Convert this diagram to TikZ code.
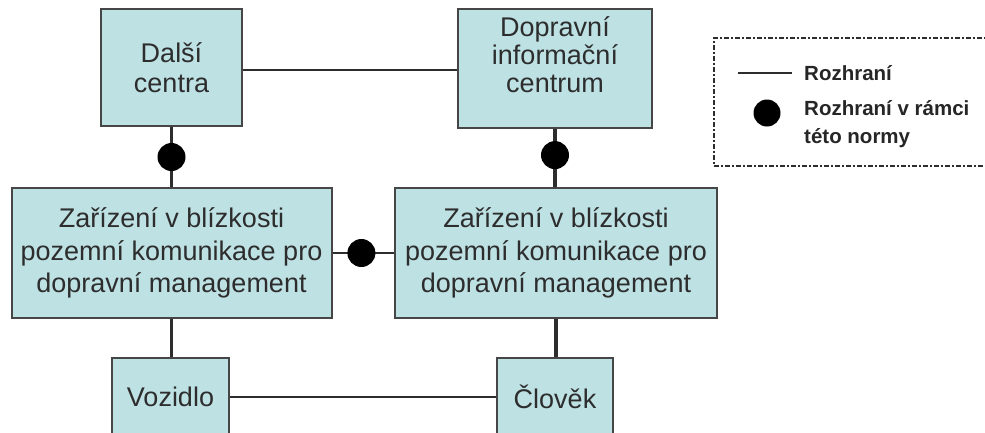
\documentclass[tikz,border=0pt]{standalone}
\usepackage{fontspec}
\setmainfont{Liberation Sans}
\usepackage{tikz}
\usetikzlibrary{
  positioning,
  calc
}
\definecolor{boxfill}{RGB}{190,225,228}
\definecolor{boxline}{RGB}{70,70,70}
\definecolor{txtgray}{RGB}{45,45,45}
\tikzset{
  unitbox/.style={draw=boxline, line width=2pt, fill=boxfill,
    inner sep=0pt, align=center, text=txtgray,
    font=\fontsize{27}{32.5}\selectfont},
  link/.style={draw=txtgray, line width=2pt},
  stdlink/.style={draw=txtgray, line width=3.5pt},
  stddot/.style={circle, fill=black, inner sep=0pt, minimum size=28pt},
  legtext/.style={font=\bfseries\fontsize{20.5}{28}\selectfont,
    text=black!85, align=left, inner sep=0pt, anchor=west},
}

\begin{document}
\begin{tikzpicture}[x=1pt, y=-1pt]
  \useasboundingbox (0,0) rectangle (985,432);
  \clip (0,0) rectangle (985,432);
  % centres
  \node[unitbox, minimum width=141pt, minimum height=117pt,
    font=\fontsize{27}{30}\selectfont] (dalsi) at (171.5,67.5)
    {Další\\centra};
  \node[unitbox, minimum width=194pt, minimum height=119pt,
    font=\fontsize{27}{28}\selectfont, text depth=27pt] (dic) at (555,68.5)
    {Dopravní\\informační\\centrum};
  % roadside units
  \node[unitbox, minimum width=320pt, minimum height=130pt] (zl) at (171.5,253)
    {Zařízení v blízkosti\\pozemní komunikace pro\\dopravní management};
  \node[unitbox, minimum width=322pt, minimum height=130pt] (zr) at (556,253)
    {Zařízení v blízkosti\\pozemní komunikace pro\\dopravní management};
  % vehicle and person
  \node[unitbox, minimum width=117pt, minimum height=77pt] (voz) at (170.5,396.5)
    {Vozidlo};
  \node[unitbox, minimum width=116pt, minimum height=77pt] (clov) at (555,396.5)
    {Člověk};
  % connectors
  \draw[link] ([yshift=-2pt]dalsi.east) -- ([yshift=-2pt]dalsi.east -| dic.west);
  \draw[link] (voz) -- (clov);
  \draw[link] (zl) -- (zr);
  \draw[stdlink] (dalsi.south) -- (zl.north);
  \draw[stdlink] (dic.south) -- (dic.south |- zr.north);
  \draw[stdlink] (zl.south) -- (zl.south |- voz.north);
  \draw[stdlink] (zr.south) -- (zr.south |- clov.north);
  \node[stddot] (dot1) at ($(dalsi.south)!0.5!(zl.north)$) {};
  \node[stddot] (dot2) at ($(dic.south)!0.45!(dic.south |- zr.north)$) {};
  \node[stddot] (dot3) at ($(zl.east)!0.47!(zr.west)$) {};
  % legend
  \node[draw=txtgray, line width=1.5pt, dash pattern=on 5pt off 2pt on 2pt off 2pt,
    minimum width=290pt, minimum height=128pt, anchor=north west] (legend) at (713,37) {};
  \coordinate (lg1) at (738,73);
  \coordinate (lg2) at (792,73);
  \draw[link, line width=2pt] (lg1) -- (lg2);
  \node[stddot, minimum size=27pt] (legdot) at (767,113) {};
  \node[legtext] (legline) at (804,73) {Rozhraní};
  \node[legtext] (legstd) at (804,124) {Rozhraní v rámci\\této normy};
\end{tikzpicture}
\end{document}
